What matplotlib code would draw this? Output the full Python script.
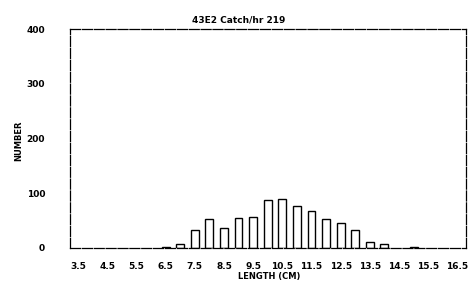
import matplotlib.pyplot as plt
import numpy as np

plt.rcParams.update({"font.family": "DejaVu Sans", "font.weight": "bold", "font.size": 6.5})

# length bins (cm) and counts
lengths = [6.5, 7.0, 7.5, 8.0, 8.5, 9.0, 9.5, 10.0, 10.5, 11.0, 11.5, 12.0, 12.5, 13.0, 13.5, 14.0, 15.0]
counts = [2, 7, 33, 53, 37, 55, 57, 88, 90, 77, 68, 52, 46, 32, 11, 8, 1]
xticks = [3.5, 4.5, 5.5, 6.5, 7.5, 8.5, 9.5, 10.5, 11.5, 12.5, 13.5, 14.5, 15.5, 16.5]
yticks = [0, 100, 200, 300, 400]

fig = plt.figure(figsize=(4.68, 2.82), dpi=100)
ax = fig.add_axes([0.15, 0.121, 0.846, 0.776])

ax.bar(lengths, counts, width=0.27, facecolor="white", edgecolor="black", linewidth=1.0)

ax.set_xlim(3.23, 16.8)
ax.set_ylim(0, 400)
ax.set_xticks(xticks)
ax.set_xticklabels([f"{t:.1f}" for t in xticks])
ax.set_yticks(yticks)
ax.tick_params(axis="x", length=0, pad=10)
ax.tick_params(axis="y", length=0, pad=18)
for s in ax.spines.values():
    s.set_linewidth(0.9)
    s.set_linestyle((0, (8, 1.5)))

fig.text(0.51, 0.929, "43E2 Catch/hr 219", ha="center", va="center", fontsize=6.5, fontweight="bold")
fig.text(0.04, 0.5, "NUMBER", rotation=90, ha="center", va="center", fontsize=6, fontweight="bold")
fig.text(0.575, 0.002, "LENGTH (CM)", ha="center", va="bottom", fontsize=6, fontweight="bold")

fig.savefig("out.png", dpi=100)
